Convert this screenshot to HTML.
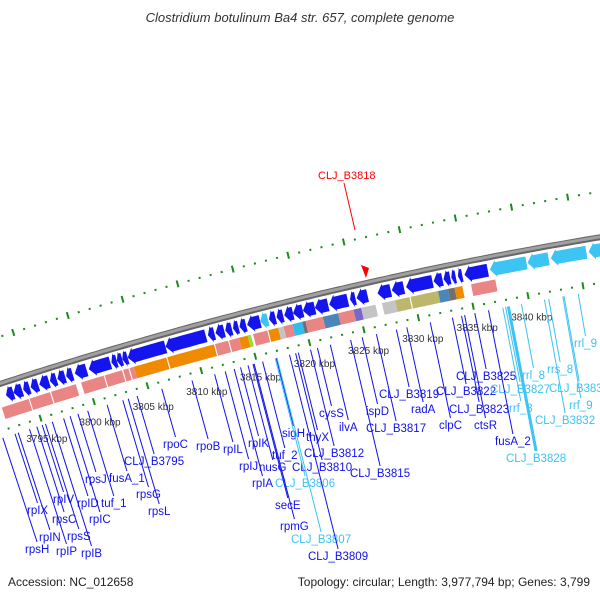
<!DOCTYPE html>
<html><head><meta charset="utf-8">
<style>
html,body{margin:0;padding:0;background:#fff;}
svg{display:block;font-family:"Liberation Sans",sans-serif;}
</style></head>
<body>
<svg id="chart" width="600" height="600" viewBox="0 0 600 600">
<text x="300" y="22" text-anchor="middle" font-size="13" font-style="italic" fill="#333">Clostridium botulinum Ba4 str. 657, complete genome</text>
<text x="8" y="586" font-size="12" fill="#222">Accession: NC_012658</text>
<text x="590" y="586" font-size="12" fill="#222" text-anchor="end">Topology: circular; Length: 3,977,794 bp; Genes: 3,799</text>
<g id="rings"></g>
<g id="genes"></g>
<g id="labels"></g>
<text x="318" y="179" font-size="11" fill="#ff0000">CLJ_B3818</text>
<line x1="344" y1="183" x2="355" y2="230" stroke="#ff0000" stroke-width="1"/>
<polygon points="361,265 369,268 366,278" fill="#ff0000"/>
</svg>
<script>
// genome window data (kbp)
const tickStart = 3790;
const tickEnd = 3852;
const tickLabelMin = 3795;
const tickLabelMax = 3840;
const revGenes = [[3792.7,3793.4],[3793.4,3794.2],[3794.3,3794.9],[3795.0,3795.7],[3795.8,3796.7],[3796.8,3797.4],[3797.5,3798.2],[3798.3,3798.9],[3799.1,3800.2],[3800.4,3802.4],[3802.5,3803.0],[3803.0,3803.5],[3803.5,3804.0],[3804.0,3807.5],[3807.5,3811.2],[3811.4,3812.0],[3812.1,3812.9],[3813.0,3813.6],[3813.7,3814.2],[3814.3,3814.9],[3815.0,3816.2],[3817.0,3817.6],[3817.7,3818.3],[3818.4,3819.2],[3819.2,3820.1],[3820.1,3821.2],[3821.2,3822.4],[3822.5,3824.2],[3824.4,3824.9],[3825.0,3826.0],[3826.9,3828.1],[3828.2,3829.3],[3829.5,3831.9],[3832.0,3832.8],[3832.9,3833.5],[3833.6,3834.0],[3834.2,3834.6],[3834.8,3836.9]];
const rnaGenes = [[3816.2,3816.9],[3837.1,3840.4],[3840.5,3842.4],[3842.6,3845.8],[3846.0,3847.4],[3847.4,3849.3]];
const cogStarts = [3792.0,3794.6,3796.6,3799.4,3801.6,3803.3,3803.9,3804.3,3807.4,3811.8,3813.1,3814.0,3814.8,3815.3,3816.7,3817.6,3818.1,3818.9,3819.8,3820.1,3821.7,3823.1,3824.5,3825.2,3827.1,3828.3,3829.7,3832.2,3833.1,3833.7,3835.2];
const cogEnds =   [3794.5,3796.5,3798.9,3801.5,3803.2,3803.8,3804.3,3807.3,3811.7,3813.0,3814.0,3814.8,3815.1,3816.6,3817.6,3818.1,3818.9,3819.8,3820.1,3821.7,3823.1,3824.5,3825.2,3826.5,3828.3,3829.6,3832.2,3833.1,3833.7,3834.4,3837.4];
const cogClass =  ['J','J','J','J','J','J','J','K','K','J','J','K','M','J','K','X','J','B','D','J','S','J','P','X','X','E','E','S','D','K','J'];
const labelTexts = ['rpsH','rpIX','rpIN','rpIP','rpsC','rpIV','rpsS','rpIB','rpID','rpIC','rpsJ','tuf_1','fusA_1','CLJ_B3795','rpsG','rpsL','rpoC','rpoB','rpIL','rpIJ','rpIK','rpIA','nusG','tuf_2','sigH','thyX','cysS','ilvA','CLJ_B3812','CLJ_B3810','CLJ_B3806','secE','rpmG','CLJ_B3807','CLJ_B3809','ispD','CLJ_B3817','CLJ_B3815','CLJ_B3819','radA','CLJ_B3822','CLJ_B3825','CLJ_B3823','clpC','ctsR','fusA_2','CLJ_B3828','CLJ_B3827','rrf_8','rrl_8','rrs_8','CLJ_B3834','rrf_9','CLJ_B3832','rrl_9'];
const labelRna = [0,0,0,0,0,0,0,0,0,0,0,0,0,0,0,0,0,0,0,0,0,0,0,0,0,0,0,0,0,0,1,0,0,1,0,0,0,0,0,0,0,0,0,0,0,0,1,1,1,1,1,1,1,1,1];
const labelX = [25,27,39,56,52,53,67,81,77,89,85,101,109,124,136,148,163,196,223,239,248,252,259,272,282,306,319,339,304,292,275,275,280,291,308,366,366,350,379,411,436,456,449,439,474,495,506,490,509,522,547,549,569,535,574];
const labelY = [553,514,541,555,523,503,540,557,507,523,483,507,482,465,498,515,448,450,453,470,447,487,471,459,437,441,417,431,457,471,487,509,530,543,560,415,432,477,398,413,395,380,413,429,429,445,462,393,412,379,373,392,409,424,347];

const colors = {J:'#ea8585',K:'#f08a00',M:'#99dd33',X:'#c4c4c4',B:'#33bbee',D:'#707070',S:'#4a86b8',P:'#7766cc',E:'#bdb76b'};
const NS='http://www.w3.org/2000/svg';
const R=4100, CX=1271, CY=4282, TH0=-0.2394, PXK=11.3;
function pt(k,r){const t=TH0+(k-3820)*PXK/R;return [CX+r*Math.sin(t),CY-r*Math.cos(t)];}
function mk(tag,attrs,parent){const e=document.createElementNS(NS,tag);for(const a in attrs)e.setAttribute(a,attrs[a]);parent.appendChild(e);return e;}
function arcPath(k1,k2,r){let d='';const n=Math.max(2,Math.ceil((k2-k1)/0.5));for(let i=0;i<=n;i++){const p=pt(k1+(k2-k1)*i/n,r);d+=(i?'L':'M')+p[0].toFixed(1)+','+p[1].toFixed(1);}return d;}
const rings=document.getElementById('rings');
let bb=mk('path',{d:arcPath(3785,3855,R),stroke:'#666',fill:'none','stroke-width':6},rings);


let bb2=mk('path',{d:arcPath(3785,3855,R+0.5),stroke:'#a0a0a0',fill:'none','stroke-width':3},rings);


[R+45,R-45].forEach((rr,ri)=>{
  for(let k=tickStart;k<=tickEnd;k++){
    const big=k%5===0;
    const a=pt(k,rr-(big?3.5:1)),b=pt(k,rr+(big?3.5:1));
    const l=mk('line',{x1:a[0],y1:a[1],x2:b[0],y2:b[1],stroke:'#1c8a1c','stroke-width':2},rings);
    
    
    if(big&&ri===1&&k>=tickLabelMin&&k<=tickLabelMax){
      const p=pt(k,R-66);
      const t=mk('text',{x:p[0],y:p[1]+4,'font-size':10,fill:'#333','text-anchor':'middle'},rings);
      t.textContent=k+' kbp';
      
      
    }
  }
});
const genes=document.getElementById('genes');
function arrow(k1,k2,r1,r2,fill,name){
  const head=Math.min(0.55,(k2-k1)*0.6);
  const rm=(r1+r2)/2;
  const n=Math.max(2,Math.ceil((k2-k1)/0.5));
  const P=[pt(k1,rm),pt(k1+head,r2+2)];
  for(let i=0;i<=n;i++)P.push(pt(k1+head+(k2-k1-head)*i/n,r2));
  for(let i=n;i>=0;i--)P.push(pt(k1+head+(k2-k1-head)*i/n,r1));
  P.push(pt(k1+head,r1-2));
  const g=mk('polygon',{points:P.map(p=>p[0].toFixed(1)+','+p[1].toFixed(1)).join(' '),fill:fill},genes);
  
  
}
revGenes.forEach(g=>arrow(g[0],g[1],R-19,R-6,'#1414ee','gene-arrow'));
rnaGenes.forEach(g=>arrow(g[0],g[1],R-19,R-6,'#3cc4f4','rna-arrow'));
cogStarts.forEach((s,i)=>{
  const e=cogEnds[i];
  const n=Math.max(2,Math.ceil((e-s)/0.5));const P=[];
  for(let j=0;j<=n;j++)P.push(pt(s+(e-s)*j/n,R-23));
  for(let j=n;j>=0;j--)P.push(pt(s+(e-s)*j/n,R-35));
  const poly=mk('polygon',{points:P.map(p=>p[0].toFixed(1)+','+p[1].toFixed(1)).join(' '),fill:colors[cogClass[i]]},genes);
  
  
});
const labels=document.getElementById('labels');
labelTexts.forEach((txt,i)=>{
  const col=labelRna[i]?'#3cc4f4':'#1010ee';
  const t=mk('text',{x:labelX[i],y:labelY[i],'font-size':11.5,fill:col},labels);
  t.textContent=txt;
  
  
  const w=t.getComputedTextLength?t.getComputedTextLength():txt.length*5.5;
  const bx=labelX[i]+w/2, by=labelY[i]-11;
  const dx=bx-CX, dy=by-CY, L=Math.hypot(dx,dy);
  const tx=CX+dx/L*(R-52), ty=CY+dy/L*(R-52);
  const l=mk('line',{x1:tx.toFixed(1),y1:ty.toFixed(1),x2:bx.toFixed(1),y2:by.toFixed(1),stroke:col,'stroke-width':(txt==='CLJ_B3828')?3:1},labels);
  
  
});
</script>
</body></html>
